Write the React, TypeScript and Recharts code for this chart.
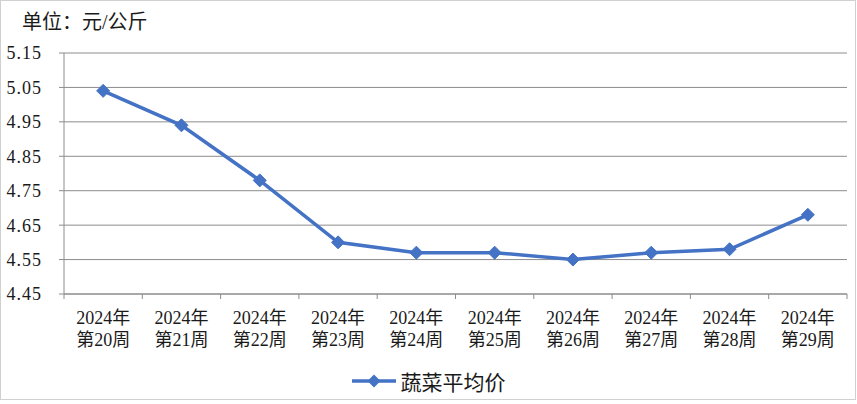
import React from 'react';
import { LineChart, Line, XAxis, YAxis, CartesianGrid, Legend } from 'recharts';

const yearLabel = '2024年';
const weekLabels = ['第20周', '第21周', '第22周', '第23周', '第24周', '第25周', '第26周', '第27周', '第28周', '第29周'];
const prices = [5.04, 4.94, 4.78, 4.60, 4.57, 4.57, 4.55, 4.57, 4.58, 4.68];
const yTicks = [4.45, 4.55, 4.65, 4.75, 4.85, 4.95, 5.05, 5.15];
const seriesName = '蔬菜平均价';
const unitTitle = '单位：元/公斤';

const data = weekLabels.map((w, i) => ({ week: w, year: yearLabel, price: prices[i] }));

const W = 857;
const H = 404;
const MARGIN = { top: 53, right: 10, bottom: 50, left: 0 };
const Y_W = 64;
const BLUE = '#4472C4';
const FONT = '"Liberation Serif", "Noto Sans CJK SC", serif';
const TEXT = '#1a1a1a';
const GRID = '#8c8c8c';
const bandW = (W - MARGIN.left - MARGIN.right - Y_W) / weekLabels.length;

const Diamond = (props: any) => {
  const { cx, cy } = props;
  if (cx == null || cy == null) return null;
  const r = 6.5;
  return <path d={`M${cx},${cy - r}L${cx + r},${cy}L${cx},${cy + r}L${cx - r},${cy}Z`} fill={BLUE} stroke={BLUE} strokeWidth={1} />;
};

const XTick = (props: any) => {
  const { x, y, payload, index } = props;
  const d = data[index] || { year: yearLabel, week: payload.value };
  const left = x - bandW / 2;
  const right = x + bandW / 2;
  return (
    <g>
      <line x1={left} y1={y} x2={left} y2={y + 5} stroke={GRID} strokeWidth={1} />
      {index === weekLabels.length - 1 && <line x1={right} y1={y} x2={right} y2={y + 5} stroke={GRID} strokeWidth={1} />}
      <text x={x} y={y + 30} textAnchor="middle" fontSize={18} fill={TEXT} fontFamily={FONT}>{d.year}</text>
      <text x={x} y={y + 52} textAnchor="middle" fontSize={18} fill={TEXT} fontFamily={FONT}>{payload.value}</text>
    </g>
  );
};

const LegendContent = () => (
  <div style={{ display: 'flex', justifyContent: 'center', alignItems: 'center', width: W }}>
    <svg width={44} height={20} style={{ marginRight: 5 }}>
      <line x1={0} y1={10} x2={44} y2={10} stroke={BLUE} strokeWidth={3.5} />
      <path d="M22,3.5L28.5,10L22,16.5L15.5,10Z" fill={BLUE} />
    </svg>
    <span style={{ fontFamily: FONT, fontSize: 21, color: TEXT }}>{seriesName}</span>
  </div>
);

export default function App() {
  return (
    <div style={{ position: 'fixed', left: 0, top: 0, width: W, height: H, background: '#fff' }}>
      <div style={{ position: 'absolute', left: 0, top: 0, width: W - 3, height: H - 6, border: '1px solid #d0d0d0', boxSizing: 'content-box' }} />
      <div style={{ position: 'absolute', left: 22, top: 6, fontFamily: FONT, fontSize: 20, color: TEXT, whiteSpace: 'nowrap' }}>{unitTitle}</div>
      <LineChart width={W} height={H} data={data} margin={MARGIN}>
        <CartesianGrid horizontal vertical={false} stroke={GRID} strokeWidth={1} />
        <XAxis
          dataKey="week"
          interval={0}
          tickLine={false}
          tickSize={0}
          tickMargin={0}
          tick={<XTick />}
          height={60}
          padding={{ left: bandW / 2, right: bandW / 2 }}
          axisLine={{ stroke: GRID, strokeWidth: 1 }}
        />
        <YAxis
          domain={[4.45, 5.15]}
          ticks={yTicks}
          type="number"
          width={Y_W}
          tickFormatter={(v: number) => v.toFixed(2)}
          tick={{ fontSize: 18, fill: TEXT, fontFamily: FONT, letterSpacing: 1 }}
          tickSize={5}
          tickMargin={17}
          tickLine={{ stroke: GRID }}
          axisLine={{ stroke: GRID, strokeWidth: 1 }}
        />
        <Legend verticalAlign="middle" align="center" content={<LegendContent />} wrapperStyle={{ top: 366, left: 0, width: W }} />
        <Line
          type="linear"
          dataKey="price"
          name={seriesName}
          stroke={BLUE}
          strokeWidth={3.5}
          dot={<Diamond />}
          activeDot={false}
          isAnimationActive={false}
        />
      </LineChart>
    </div>
  );
}
